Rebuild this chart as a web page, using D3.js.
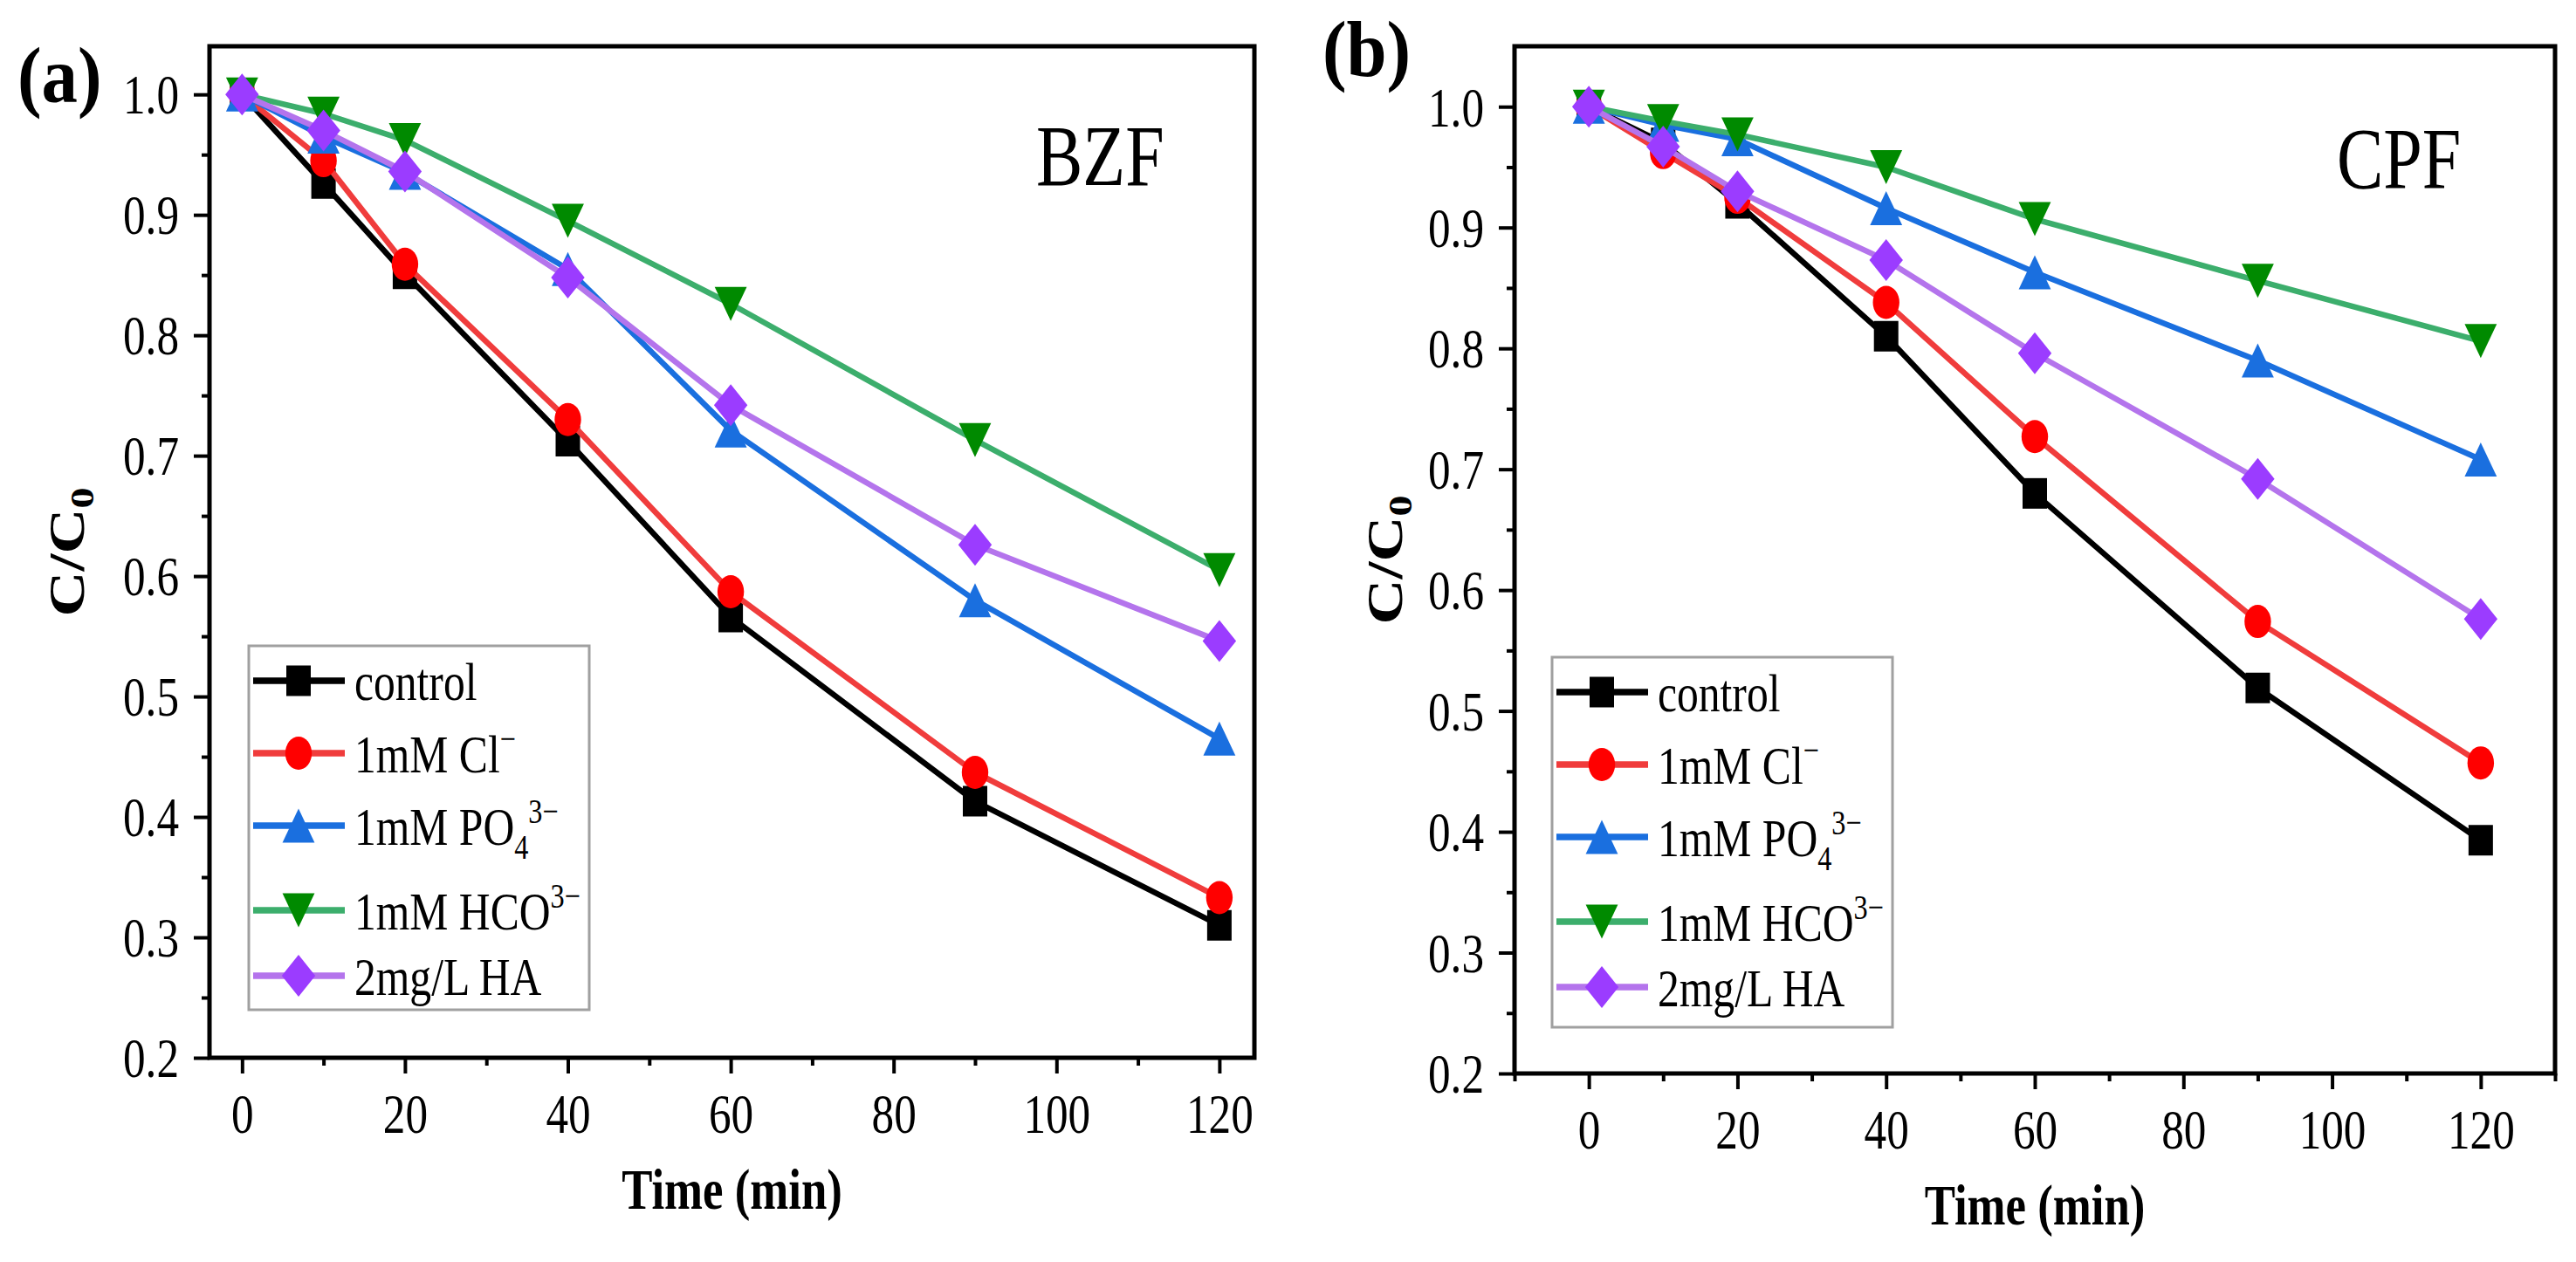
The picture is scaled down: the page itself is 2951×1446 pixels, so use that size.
<!DOCTYPE html>
<html>
<head>
<meta charset="utf-8">
<script src="https://cdn.jsdelivr.net/npm/d3@7"></script>
<style>
  body { margin: 0; background: #fff; }
  text { font-family: "Liberation Serif", "Times New Roman", serif; fill: #000; }
</style>
</head>
<body>
<div id="chart"></div>
<script>
// sampling times (min)
const times = [0, 10, 20, 40, 60, 90, 120];

// panel (a) BZF, C/C0
const bzfControl = [1.0, 0.926, 0.851, 0.712, 0.566, 0.413, 0.310];
const bzfCl      = [1.0, 0.945, 0.859, 0.730, 0.587, 0.437, 0.333];
const bzfPO4     = [1.0, 0.965, 0.935, 0.855, 0.721, 0.580, 0.465];
const bzfHCO3    = [1.0, 0.984, 0.962, 0.895, 0.826, 0.713, 0.605];
const bzfHA      = [1.0, 0.970, 0.936, 0.848, 0.742, 0.626, 0.546];

// panel (b) CPF
const cpfControl = [1.0, 0.970, 0.920, 0.810, 0.680, 0.519, 0.393];
const cpfCl      = [1.0, 0.962, 0.925, 0.838, 0.727, 0.574, 0.457];
const cpfPO4     = [1.0, 0.985, 0.973, 0.916, 0.863, 0.790, 0.708];
const cpfHCO3    = [1.0, 0.988, 0.977, 0.950, 0.907, 0.856, 0.806];
const cpfHA      = [1.0, 0.967, 0.930, 0.873, 0.796, 0.692, 0.576];

// legend labels (pieces so sub/superscripts can be set)
const seriesLabels = [
    [{ t: "control" }],
    [{ t: "1mM Cl" }, { t: "\u2212", sup: true }],
    [{ t: "1mM PO" }, { t: "4", sub: true }, { t: "3\u2212", sup: true }],
    [{ t: "1mM HCO" }, { t: "3\u2212", sup: true }],
    [{ t: "2mg/L HA" }]
];

// ticks
const xTicks = [0, 20, 40, 60, 80, 100, 120];
const xMinorA = [10, 30, 50, 70, 90, 110];
const xMinorB = [-10, 10, 30, 50, 70, 90, 110, 130];
const yTicks = [0.2, 0.3, 0.4, 0.5, 0.6, 0.7, 0.8, 0.9, 1.0];
const yMinor = [0.25, 0.35, 0.45, 0.55, 0.65, 0.75, 0.85, 0.95];

// the source figure is squeezed horizontally, so text and markers are too
const SX = 0.8;

const W = 2951, H = 1446;
const svg = d3.select("#chart").append("svg")
    .attr("width", W)
    .attr("height", H);

// line colour, marker colour, marker shape for each series
const styles = [
    { line: "#000000", fill: "#000000", shape: "square" },
    { line: "#f03c3c", fill: "#ff0000", shape: "circle" },
    { line: "#1a6fdf", fill: "#1a6fdf", shape: "up" },
    { line: "#3cae6c", fill: "#008a00", shape: "down" },
    { line: "#b474ec", fill: "#9b3cff", shape: "diamond" }
];

// marker shapes as d3 symbol types
const shapes = {
    square: d3.symbolSquare,
    circle: d3.symbolCircle,
    up: { draw(c, s) { const r = Math.sqrt(s); c.moveTo(0, -r); c.lineTo(r * 1.18, r); c.lineTo(-r * 1.18, r); c.closePath(); } },
    down: { draw(c, s) { const r = Math.sqrt(s); c.moveTo(0, r); c.lineTo(r * 1.18, -r); c.lineTo(-r * 1.18, -r); c.closePath(); } },
    diamond: { draw(c, s) { const r = Math.sqrt(s); c.moveTo(0, -r); c.lineTo(r, 0); c.lineTo(0, r); c.lineTo(-r, 0); c.closePath(); } }
};
const sizes = { square: 35 * 35, circle: Math.PI * 19 * 19, up: 19.5 * 19.5, down: 19.5 * 19.5, diamond: 24 * 24 };

function symbolPath(shape) {
    return d3.symbol().type(shapes[shape]).size(sizes[shape])();
}

// horizontally squeezed text
function squeezed(g, x, y, txt, size, weight, anchor) {
    return g.append("text")
        .attr("transform", `translate(${x},${y}) scale(${SX},1)`)
        .attr("text-anchor", anchor || "start")
        .style("font-size", size + "px")
        .style("font-weight", weight || "normal")
        .text(txt);
}

// text with sub/superscript pieces
function richText(sel, parts, fs) {
    let shift = 0;
    parts.forEach(p => {
        let target = p.sup ? -0.4 * fs : (p.sub ? 0.26 * fs : 0);
        sel.append("tspan")
            .attr("dy", target - shift)
            .style("font-size", (p.sup || p.sub) ? (fs * 0.65) + "px" : fs + "px")
            .text(p.t);
        shift = target;
    });
}

const panels = [
    {
        tag: "(a)", name: "BZF",
        series: [bzfControl, bzfCl, bzfPO4, bzfHCO3, bzfHA],
        xDomain: [-4, 124.3], yDomain: [0.2, 1.04], xMinor: xMinorA,
        left: 240, right: 1437, top: 53, bottom: 1212,
        tagX: 20, tagY: 117, nameX: 1187, nameY: 212, yLabelX: 96,
        legX: 285, legY: 740, legW: 390, legH: 417
    },
    {
        tag: "(b)", name: "CPF",
        series: [cpfControl, cpfCl, cpfPO4, cpfHCO3, cpfHA],
        xDomain: [-10, 130], yDomain: [0.2, 1.05], xMinor: xMinorB,
        left: 1735, right: 2927, top: 53, bottom: 1230,
        tagX: 1515, tagY: 87, nameX: 2677, nameY: 215, yLabelX: 1606,
        legX: 1778, legY: 753, legW: 390, legH: 424
    }
];

const legendRows = [40, 123, 206, 303, 378];

function drawPanel(p) {
    let g = svg.append("g");

    let x = d3.scaleLinear().domain(p.xDomain).range([p.left, p.right]);
    let y = d3.scaleLinear().domain(p.yDomain).range([p.bottom, p.top]);

    // axes (ticks outward, frame drawn separately)
    let ya = g.append("g").attr("transform", `translate(${p.left},0)`)
        .call(d3.axisLeft(y).tickValues(yTicks).tickSize(18).tickFormat(d3.format(".1f")));
    ya.selectAll("text")
        .attr("x", -35 / SX)
        .attr("dy", "0.34em")
        .attr("transform", `scale(${SX},1)`)
        .style("font-size", "64px");
    let yam = g.append("g").attr("transform", `translate(${p.left},0)`)
        .call(d3.axisLeft(y).tickValues(yMinor).tickSize(9).tickFormat(""));

    let xa = g.append("g").attr("transform", `translate(0,${p.bottom})`)
        .call(d3.axisBottom(x).tickValues(xTicks).tickSize(18).tickFormat(d3.format("d")));
    xa.selectAll("text")
        .attr("y", 86)
        .attr("dy", 0)
        .attr("transform", `scale(${SX},1)`)
        .attr("x", 0)
        .style("font-size", "64px");
    let xam = g.append("g").attr("transform", `translate(0,${p.bottom})`)
        .call(d3.axisBottom(x).tickValues(p.xMinor).tickSize(9).tickFormat(""));

    [ya, yam, xa, xam].forEach(a => {
        a.select(".domain").remove();
        a.selectAll("line").attr("stroke", "#000").attr("stroke-width", 4);
    });

    // series: line then markers, in the legend order
    let line = d3.line()
        .x(d => x(d[0]))
        .y(d => y(d[1]));

    p.series.forEach((vals, i) => {
        let pts = times.map((t, j) => [t, vals[j]]);
        let st = styles[i];
        g.append("path")
            .datum(pts)
            .attr("d", line)
            .attr("fill", "none")
            .attr("stroke", st.line)
            .attr("stroke-width", 6.5)
            .attr("stroke-linejoin", "round");
        g.selectAll(null)
            .data(pts)
            .enter()
            .append("path")
            .attr("d", symbolPath(st.shape))
            .attr("transform", d => `translate(${x(d[0])},${y(d[1])}) scale(${SX},1)`)
            .attr("fill", st.fill);
    });

    // frame
    g.append("rect")
        .attr("x", p.left)
        .attr("y", p.top)
        .attr("width", p.right - p.left)
        .attr("height", p.bottom - p.top)
        .attr("fill", "none")
        .attr("stroke", "#000")
        .attr("stroke-width", 5);

    // legend
    let leg = g.append("g").attr("transform", `translate(${p.legX},${p.legY})`);
    leg.append("rect")
        .attr("width", p.legW)
        .attr("height", p.legH)
        .attr("fill", "#fff")
        .attr("stroke", "#a0a0a0")
        .attr("stroke-width", 3);
    seriesLabels.forEach((parts, i) => {
        let ry = legendRows[i];
        let st = styles[i];
        leg.append("line")
            .attr("x1", 5).attr("x2", 110)
            .attr("y1", ry).attr("y2", ry)
            .attr("stroke", st.line)
            .attr("stroke-width", 7.5);
        leg.append("path")
            .attr("d", symbolPath(st.shape))
            .attr("transform", `translate(57,${ry}) scale(${SX},1)`)
            .attr("fill", st.fill);
        let t = leg.append("text")
            .attr("transform", `translate(121,${ry + 22}) scale(${SX},1)`);
        richText(t, parts, 62);
    });

    // labels
    squeezed(g, p.tagX, p.tagY, p.tag, 92, "bold").attr("transform", `translate(${p.tagX},${p.tagY}) scale(0.9,1)`);
    squeezed(g, p.nameX, p.nameY, p.name, 100);
    squeezed(g, (p.left + p.right) / 2, p.bottom + 173, "Time (min)", 66, "bold", "middle");

    let yl = g.append("text")
        .attr("transform", `translate(${p.yLabelX},${(p.top + p.bottom) / 2}) rotate(-90) scale(1,${SX})`)
        .attr("text-anchor", "middle")
        .style("font-size", "72px")
        .style("font-weight", "bold");
    yl.append("tspan").text("C/C");
    yl.append("tspan").attr("dy", 14).style("font-size", "48px").text("0");
}

panels.forEach(drawPanel);
</script>
</body>
</html>
